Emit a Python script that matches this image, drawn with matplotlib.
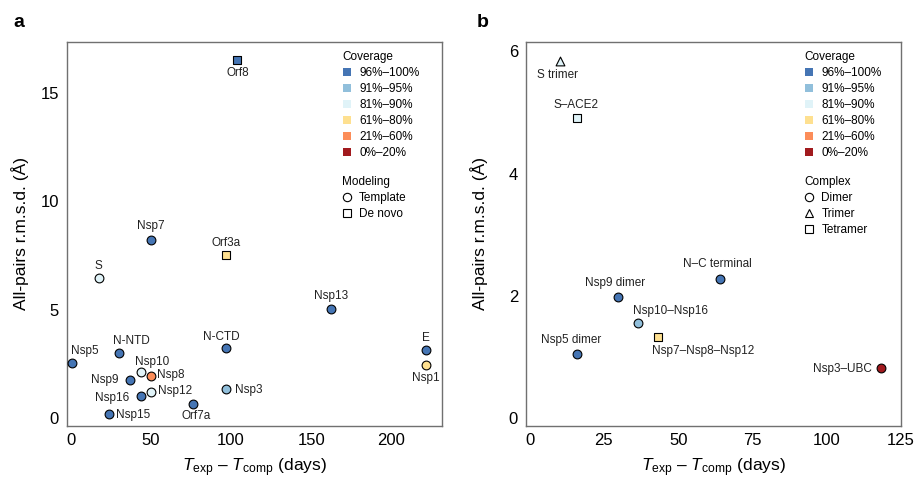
import matplotlib
matplotlib.use('Agg')
import matplotlib.pyplot as plt
from matplotlib.lines import Line2D

plt.rcParams['font.family'] = ['Liberation Sans', 'DejaVu Sans']
plt.rcParams['mathtext.fontset'] = 'custom'
plt.rcParams['mathtext.rm'] = 'Liberation Sans'
plt.rcParams['mathtext.it'] = 'Liberation Sans:italic'

# coverage classes (index used in the *_cov lists below)
coverageLabels = ['96%–100%', '91%–95%', '81%–90%', '61%–80%', '21%–60%', '0%–20%']
coverageColours = ['#4575b4', '#91bfdb', '#e0f3f8', '#fee090', '#fc8d59', '#a11a1e']

# panel a - single chains
a_names = ['Orf8', 'Nsp7', 'Orf3a', 'S', 'Nsp13', 'Nsp5', 'N-NTD', 'N-CTD', 'E', 'Nsp1',
           'Nsp10', 'Nsp8', 'Nsp9', 'Nsp12', 'Nsp16', 'Nsp3', 'Orf7a', 'Nsp15']
a_days = [103.9, 50.2, 96.6, 17.5, 162.3, 0.6, 30.4, 96.6, 221.4, 221.4,
          43.8, 50.2, 37.1, 50.2, 43.8, 96.6, 76.4, 23.8]
a_rmsd = [16.5, 8.19, 7.51, 6.45, 5.02, 2.56, 3.0, 3.22, 3.15, 2.44,
          2.12, 1.94, 1.77, 1.21, 1.04, 1.36, 0.63, 0.2]
a_cov = [0, 0, 3, 2, 0, 0, 0, 0, 0, 3, 2, 4, 0, 2, 0, 1, 0, 0]
a_model = ['De novo', 'Template', 'De novo', 'Template', 'Template', 'Template', 'Template',
           'Template', 'Template', 'Template', 'Template', 'Template', 'Template', 'Template',
           'Template', 'Template', 'Template', 'Template']

# panel b - complexes
b_names = ['S trimer', 'S–ACE2', 'N–C terminal', 'Nsp9 dimer', 'Nsp10–Nsp16',
           'Nsp7–Nsp8–Nsp12', 'Nsp5 dimer', 'Nsp3–UBC']
b_days = [10.3, 16.1, 64.0, 29.8, 36.5, 43.3, 16.1, 118.4]
b_rmsd = [5.85, 4.91, 2.28, 1.98, 1.56, 1.33, 1.06, 0.82]
b_cov = [2, 2, 0, 0, 1, 3, 0, 5]
b_complex = ['Trimer', 'Tetramer', 'Dimer', 'Dimer', 'Dimer', 'Tetramer', 'Dimer', 'Dimer']

# label placement (ha, dx px, dy px) - layout only
a_place = [('center', 0, -12.7), ('center', 0, 14), ('center', 0, 12), ('center', 0, 12),
           ('center', 0, 13.6), ('left', -1, 12), ('left', -6, 11.6), ('center', -4, 11),
           ('center', 0, 12), ('center', 0, -13), ('left', -5.7, 10), ('left', 6.3, 1),
           ('right', -11.5, 0), ('left', 7, 1.3), ('right', -11.3, -2), ('left', 9, -1.3),
           ('center', 3, -12), ('left', 7, -1.7)]
b_place = [('center', -3, -14.3), ('center', -1, 13), ('center', -2, 14.7), ('center', -3, 14.7),
           ('left', -5, 12.4), ('left', -6, -14.4), ('center', -6, 14), ('right', -9.5, -1)]

modelMarkers = {'Template': 'o', 'De novo': 's'}
complexMarkers = {'Dimer': 'o', 'Trimer': '^', 'Tetramer': 's'}

fig = plt.figure(figsize=(9.17, 4.8), dpi=100)
ax1 = fig.add_axes([0.0727, 0.1131, 0.4093, 0.8])
ax2 = fig.add_axes([0.5733, 0.1131, 0.4093, 0.8])

def panel(ax, names, days, rmsd, cov, kind, markers, place):
    for i in range(len(names)):
        ax.scatter(days[i], rmsd[i], s=40, marker=markers[kind[i]], c=coverageColours[cov[i]],
                   edgecolors='black', linewidths=0.8, zorder=3)
        ha, dx, dy = place[i]
        ax.annotate(names[i], (days[i], rmsd[i]), xytext=(dx, dy), textcoords='offset pixels',
                    ha=ha, va='center', fontsize=8.5, color='#222222')
    for s in ax.spines.values():
        s.set_color('#707070')
        s.set_linewidth(1.0)
    ax.tick_params(length=0, pad=5.5, labelsize=12)
    ax.set_xlabel(r'$T_{\mathrm{exp}}$ – $T_{\mathrm{comp}}$ (days)', fontsize=12.5, labelpad=6)
    ax.set_ylabel('All-pairs r.m.s.d. (Å)', fontsize=12.5)

def legends(ax, xpos, title2, markers):
    h1 = [Line2D([], [], ls='none', marker='s', markersize=6.3, markerfacecolor=c, markeredgewidth=0)
          for c in coverageColours]
    leg1 = ax.legend(h1, coverageLabels, title='Coverage', loc='upper left', bbox_to_anchor=(xpos, 0.976),
                     frameon=False, fontsize=8.5, title_fontsize=8.5, alignment='left',
                     handlelength=0.8, handletextpad=0.65, labelspacing=0.34, borderpad=0, borderaxespad=0)
    ax.add_artist(leg1)
    h2 = [Line2D([], [], ls='none', marker=m, markersize=6, markerfacecolor='white',
                 markeredgecolor='black', markeredgewidth=0.8) for m in markers.values()]
    ax.legend(h2, list(markers.keys()), title=title2, loc='upper left', bbox_to_anchor=(xpos, 0.65),
              frameon=False, fontsize=8.5, title_fontsize=8.5, alignment='left',
              handlelength=0.8, handletextpad=0.65, labelspacing=0.34, borderpad=0, borderaxespad=0)

panel(ax1, a_names, a_days, a_rmsd, a_cov, a_model, modelMarkers, a_place)
ax1.set_xlim(-2.5, 231.5)
ax1.set_ylim(-0.35, 17.35)
ax1.set_xticks([0, 50, 100, 150, 200])
ax1.set_yticks([0, 5, 10, 15])
ax1.yaxis.set_label_coords(-0.101, 0.5)
legends(ax1, 0.7336, 'Modeling', modelMarkers)

panel(ax2, b_names, b_days, b_rmsd, b_cov, b_complex, complexMarkers, b_place)
ax2.set_xlim(-1.3, 125)
ax2.set_ylim(-0.12, 6.16)
ax2.set_xticks([0, 25, 50, 75, 100, 125])
ax2.set_yticks([0, 2, 4, 6])
ax2.yaxis.set_label_coords(-0.1, 0.5)
legends(ax2, 0.742, 'Complex', complexMarkers)

fig.text(19 / 917, 1 - 22.7 / 480, 'a', fontsize=14, fontweight='bold', ha='center', va='center')
fig.text(483 / 917, 1 - 22.7 / 480, 'b', fontsize=14, fontweight='bold', ha='center', va='center')

fig.savefig('out.png', dpi=100)
